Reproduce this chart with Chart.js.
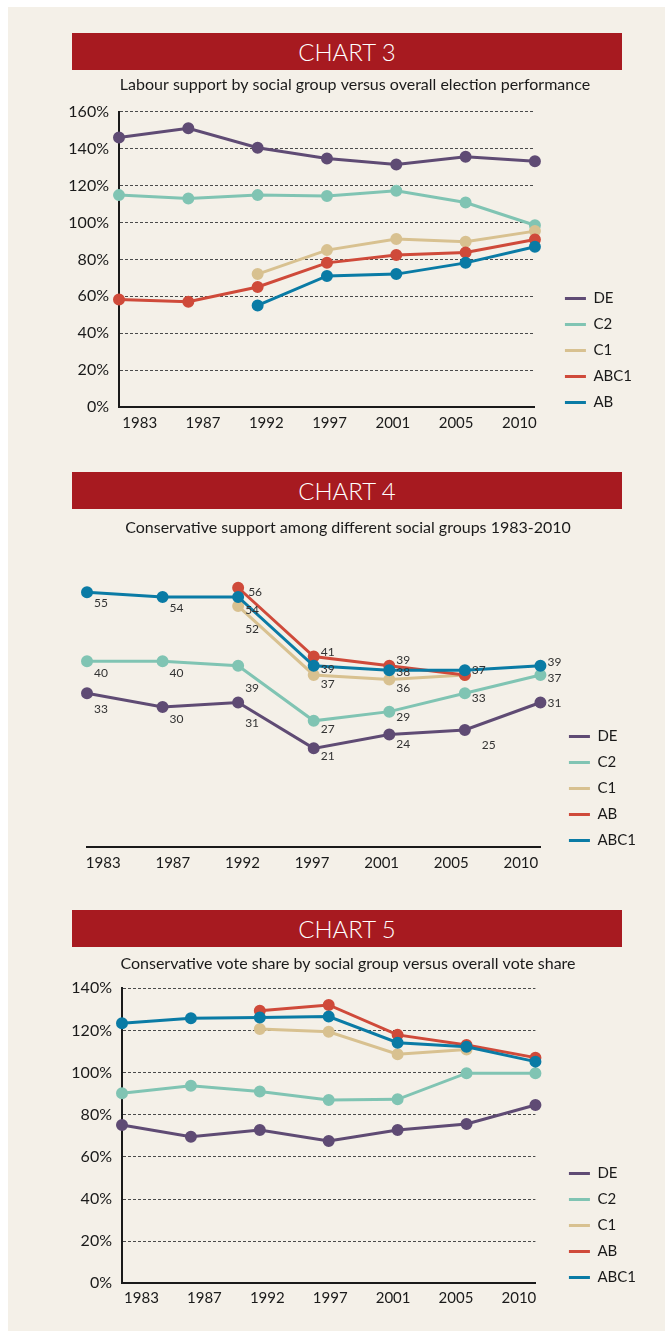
<!DOCTYPE html>
<html>
<head>
<meta charset="utf-8">
<script src="https://cdn.jsdelivr.net/npm/chart.js@4.4.1/dist/chart.umd.min.js"></script>
<style>
body{margin:0;background:#fff;width:665px;height:1331px;position:relative;overflow:hidden;font-family:Lato,sans-serif}
#panel{position:absolute;left:8px;top:7px;width:657px;height:1324px;background:#f4f0e8}
.banner{position:absolute;left:72px;width:550px;height:37px;line-height:38px;background:#a71a20;color:#fff;text-align:center;font-size:24px;font-weight:300;font-family:Lato,sans-serif}
canvas{position:absolute;left:50px}
</style>
</head>
<body>
<div id="panel"></div>
<div class="banner" style="top:33px">CHART 3</div>
<canvas id="c3" width="615" height="372" style="top:70px"></canvas>
<div class="banner" style="top:472px">CHART 4</div>
<canvas id="c4" width="615" height="370" style="top:512px"></canvas>
<div class="banner" style="top:910px">CHART 5</div>
<canvas id="c5" width="615" height="383" style="top:948px"></canvas>
<script>
// election years (shared by all three charts)
const years = ['1983', '1987', '1992', '1997', '2001', '2005', '2010'];

// chart 3 - labour support by group vs overall (%)
const labourDE   = [146, 151, 140.5, 134.7, 131.4, 135.6, 133.2];
const labourC2   = [114.8, 113, 114.8, 114.3, 117.2, 110.8, 98.5];
const labourC1   = [null, null, 72, 85, 91, 89.5, 95.3];
const labourABC1 = [58.2, 57, 65, 78.1, 82.3, 83.7, 90.8];
const labourAB   = [null, null, 55, 71, 72, 78.1, 86.8];
const pctTicks3 = [0, 20, 40, 60, 80, 100, 120, 140, 160];

// chart 4 - conservative support (%)
const conDE   = [33, 30, 31, 21, 24, 25, 31];
const conC2   = [40, 40, 39, 27, 29, 33, 37];
const conC1   = [null, null, 52, 37, 36, 37, null];
const conAB   = [null, null, 56, 41, 39, 37, null];
const conABC1 = [55, 54, 54, 39, 38, 38, 39];

// chart 5 - conservative share by group vs overall (%)
const shareDE   = [75.1, 69.6, 72.8, 67.5, 72.8, 75.6, 84.6];
const shareC2   = [90.2, 93.8, 91, 87, 87.3, 99.7, 99.7];
const shareC1   = [null, null, 120.7, 119.4, 108.7, 111, null];
const shareAB   = [null, null, 129.3, 132.1, 117.9, 113.1, 107.1];
const shareABC1 = [123.4, 125.8, 126.1, 126.6, 114.2, 112.3, 105.2];
const pctTicks5 = [0, 20, 40, 60, 80, 100, 120, 140];

// colours
const cDE = '#5f4b74', cC2 = '#80c4b3', cC1 = '#d8c190', cRed = '#cf4a3a', cBlue = '#0a7ba5';
const ink = '#1a1a1a';
const FONT = 'Lato';

function serie(label, data, color){
    return {label: label, data: data, borderColor: color, backgroundColor: color,
        pointBackgroundColor: color, pointBorderColor: color, pointBorderWidth: 3,
        pointRadius: 4.5, pointHoverRadius: 4.5, borderWidth: 3, tension: 0,
        clip: false, xAxisID: 'x', yAxisID: 'y'};
}

// axis only used to print the year labels (slightly inset from the points)
function yearAxis(min, max, pad, h){
    return {type: 'linear', position: 'bottom', min: min, max: max,
        afterBuildTicks: s => { s.ticks = years.map((y, i) => ({value: i})); },
        afterFit: s => { s.height = h; },
        grid: {display: false, drawTicks: false},
        border: {display: true, color: ink, width: 2},
        ticks: {padding: pad, color: ink, autoSkip: false, maxRotation: 0,
            font: {size: 15, family: FONT}, callback: v => years[v]}};
}

// empty axis that leaves room between plot and legend
function gapAxis(w){
    return {type: 'linear', position: 'right', min: 0, max: 1,
        grid: {display: false, drawTicks: false}, border: {display: false},
        ticks: {display: false}, afterFit: s => { s.width = w; }};
}

function pctAxis(ticks, w){
    return {type: 'linear', position: 'left', min: ticks[0], max: ticks[ticks.length - 1],
        afterBuildTicks: s => { s.ticks = ticks.map(v => ({value: v})); },
        afterFit: s => { s.width = w; },
        grid: {color: '#4a4a4a', lineWidth: 1, drawTicks: false},
        border: {display: true, color: ink, width: 2, dash: [3, 2]},
        ticks: {padding: 10, color: ink, font: {size: 16, family: FONT}, callback: v => v + '%'}};
}

// legend sits low on the right: an empty legend title pushes the items down
function legendOpts(drop){
    return {position: 'right', align: 'start', reverse: true,
        title: {display: true, text: '', font: {size: 10, lineHeight: 1}, padding: {top: drop - 10, bottom: 0}},
        labels: {usePointStyle: true, pointStyle: 'line', pointStyleWidth: 21, padding: 11,
            color: ink, font: {size: 15, family: FONT}}};
}

function titleOpts(text, top, bottom){
    return {display: true, text: text, color: ink, font: {size: 16, family: FONT, weight: 'normal'},
        padding: {top: top, bottom: bottom}};
}

// number labels next to the points of chart 4 (dy, or [dx, dy])
const labelNudge = {
    'DE':   [16, 12, 21, 8, 10, [17, 15], 1],
    'C2':   [12, 12, 22, 8, 5, 5, 3],
    'C1':   [null, null, 23, 9, 9, null, null],
    'AB':   [null, null, [10, 4], -4, -6, -5, null],
    'ABC1': [11, 11, 13, 3, 2, null, -4]
};
const pointLabels = {
    id: 'pointLabels',
    afterDatasetsDraw(chart){
        const ctx = chart.ctx;
        ctx.save();
        ctx.font = '12px ' + FONT;
        ctx.fillStyle = '#333';
        ctx.textBaseline = 'middle';
        ctx.textAlign = 'left';
        chart.data.datasets.forEach((ds, di) => {
            const meta = chart.getDatasetMeta(di);
            const nudge = labelNudge[ds.label];
            meta.data.forEach((pt, i) => {
                const v = ds.data[i];
                if (v == null || !nudge || nudge[i] == null) return;
                let dx = 7, dy = nudge[i];
                if (Array.isArray(dy)) { dx = dy[0]; dy = dy[1]; }
                ctx.fillText(String(v), pt.x + dx, pt.y + dy);
            });
        });
        ctx.restore();
    }
};

Chart.defaults.font.family = FONT;
Chart.defaults.animation = false;
Chart.defaults.events = [];

// CHART 3
new Chart(document.getElementById('c3'), {
    type: 'line',
    data: {labels: years, datasets: [
        serie('AB', labourAB, cBlue),
        serie('ABC1', labourABC1, cRed),
        serie('C1', labourC1, cC1),
        serie('C2', labourC2, cC2),
        serie('DE', labourDE, cDE)
    ]},
    options: {
        responsive: false,
        layout: {padding: {left: 18, right: 23, top: 0, bottom: 0}},
        scales: {
            x: {type: 'category', display: false, offset: false},
            xl: yearAxis(-0.3277, 6.2455, 7, 35),
            y: pctAxis(pctTicks3, 51),
            gap: gapAxis(19)
        },
        plugins: {
            title: titleOpts('Labour support by social group versus overall election performance', 5.4, 17.1),
            legend: legendOpts(210),
            tooltip: {enabled: false}
        }
    }
});

// CHART 4
new Chart(document.getElementById('c4'), {
    type: 'line',
    data: {labels: years, datasets: [
        serie('ABC1', conABC1, cBlue),
        serie('AB', conAB, cRed),
        serie('C1', conC1, cC1),
        serie('C2', conC2, cC2),
        serie('DE', conDE, cDE)
    ]},
    options: {
        responsive: false,
        layout: {padding: {left: 0, right: 19, top: 0, bottom: 2}},
        scales: {
            x: {type: 'category', display: false, offset: false},
            xl: yearAxis(-0.233, 6.281, 7, 33),
            // invisible axis, only keeps the plot clear of the left edge
            y: {type: 'linear', min: -0.5, max: 59.5, grid: {display: false, drawTicks: false},
                border: {display: false}, ticks: {display: false}, afterFit: s => { s.width = 37; }},
            gap: gapAxis(17.5)
        },
        plugins: {
            title: titleOpts('Conservative support among different social groups 1983-2010', 6.4, 34.1),
            legend: legendOpts(206),
            tooltip: {enabled: false}
        }
    },
    plugins: [pointLabels]
});

// CHART 5
new Chart(document.getElementById('c5'), {
    type: 'line',
    data: {labels: years, datasets: [
        serie('ABC1', shareABC1, cBlue),
        serie('AB', shareAB, cRed),
        serie('C1', shareC1, cC1),
        serie('C2', shareC2, cC2),
        serie('DE', shareDE, cDE)
    ]},
    options: {
        responsive: false,
        layout: {padding: {left: 0, right: 19, top: 0, bottom: 12.7}},
        scales: {
            x: {type: 'category', display: false, offset: false},
            xl: yearAxis(-0.31, 6.263, 6, 35),
            y: pctAxis(pctTicks5, 72),
            gap: gapAxis(22.5)
        },
        plugins: {
            title: titleOpts('Conservative vote share by social group versus overall vote share', 6.4, 14.7),
            legend: legendOpts(207),
            tooltip: {enabled: false}
        }
    }
});
</script>
</body>
</html>
